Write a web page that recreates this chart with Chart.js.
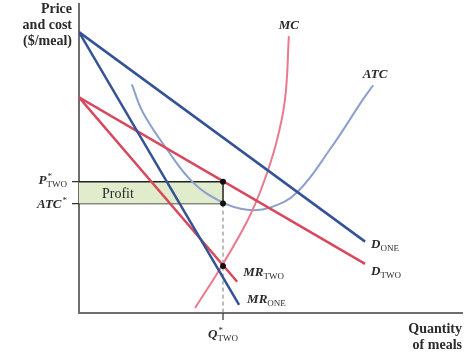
<!DOCTYPE html>
<html>
<head>
<meta charset="utf-8">
<script src="https://cdn.jsdelivr.net/npm/chart.js@4.4.0/dist/chart.umd.min.js"></script>
<style>
  body { margin: 0; background: #fff; }
  canvas { display: block; }
</style>
</head>
<body>
<canvas id="chart" width="474" height="358"></canvas>
<script>
// quantities (x) and prices (y), scale 0..100
var dOneQ = [0, 74.7],   dOneP = [90.9, 23.1];
var mrOneQ = [0, 41.8],  mrOneP = [90.9, 2.6];
var dTwoQ = [0, 74.7],   dTwoP = [69.8, 15.9];
var mrTwoQ = [0, 41.3],  mrTwoP = [69.8, 10.1];
var mcQ = [30.3, 37.3, 44.1, 48.0, 51.5, 53.8, 54.8];
var mcP = [1.6, 15.3, 30.2, 41.5, 55.0, 69.2, 89.6];
var atcQ = [13.8, 16.7, 23.0, 29.8, 37.6, 43.9, 49.9, 56.9, 65.5, 74.2, 76.8];
var atcP = [74.0, 64.9, 52.9, 42.2, 35.7, 33.4, 34.1, 39.0, 52.9, 69.2, 73.7];
var qStar = 37.6, pStar = 42.5, atcStar = 35.4, mrStar = 15.2;

var BLUE = 'rgb(52,82,150)';
var RED = 'rgb(216,72,92)';
var PINK = 'rgb(234,122,142)';
var LIGHTBLUE = 'rgb(140,160,205)';
var SERIF = '"Liberation Serif", "DejaVu Serif", serif';

function pts(xs, ys) {
    var out = [];
    for (var i = 0; i < xs.length; i++) out.push({x: xs[i], y: ys[i]});
    return out;
}

function line(data, color, width, extra) {
    var ds = {
        data: data,
        borderColor: color,
        borderWidth: width,
        pointRadius: 0,
        fill: false,
        tension: 0
    };
    for (var k in extra) ds[k] = extra[k];
    return ds;
}

// italic label with optional superscript and subscript
function drawLabel(ctx, x, y, main, sup, sub, align) {
    var mainFont = 'italic bold 13px ' + SERIF;
    var smallFont = '9px ' + SERIF;
    ctx.font = mainFont;
    var w1 = ctx.measureText(main).width;
    ctx.font = smallFont;
    var w2 = Math.max(sub ? ctx.measureText(sub).width : 0, sup ? ctx.measureText(sup).width + 1 : 0);
    var total = w1 + w2;
    var sx = align === 'right' ? x - total : align === 'center' ? x - total / 2 : x;
    ctx.textAlign = 'left';
    ctx.font = mainFont;
    ctx.fillText(main, sx, y);
    ctx.font = smallFont;
    if (sup) ctx.fillText(sup, sx + w1 + 1, y - 5);
    if (sub) ctx.fillText(sub, sx + w1, y + 3);
}

var annotations = {
    id: 'annotations',
    afterDraw: function(chart) {
        var ctx = chart.ctx;
        var xs = chart.scales.x, ys = chart.scales.y;
        var area = chart.chartArea;
        function px(v) { return xs.getPixelForValue(v); }
        function py(v) { return ys.getPixelForValue(v); }
        ctx.save();
        // small ticks at P*, ATC* and Q*
        ctx.strokeStyle = '#333';
        ctx.lineWidth = 1.2;
        ctx.beginPath();
        ctx.moveTo(area.left - 7, py(pStar)); ctx.lineTo(area.left, py(pStar));
        ctx.moveTo(area.left - 7, py(atcStar)); ctx.lineTo(area.left, py(atcStar));
        ctx.moveTo(px(qStar), area.bottom); ctx.lineTo(px(qStar), area.bottom + 7);
        ctx.stroke();

        ctx.fillStyle = '#2a2a2a';
        ctx.textBaseline = 'alphabetic';
        // axis titles
        ctx.font = 'bold 14px ' + SERIF;
        ctx.textAlign = 'right';
        ctx.fillText('Price', area.left - 7, 13);
        ctx.fillText('and cost', area.left - 7, 29);
        ctx.fillText('($/meal)', area.left - 7, 45);
        ctx.fillText('Quantity', area.right, 333);
        ctx.fillText('of meals', area.right, 349);

        // profit
        ctx.font = '14px ' + SERIF;
        ctx.textAlign = 'center';
        ctx.fillText('Profit', px(qStar) * 0.27 + area.left * 0.73, (py(pStar) + py(atcStar)) / 2 + 5);

        drawLabel(ctx, px(mcQ[mcQ.length - 1]), py(mcP[mcP.length - 1]) - 7, 'MC', null, null, 'center');
        drawLabel(ctx, px(atcQ[atcQ.length - 1]) + 2, py(atcP[atcP.length - 1]) - 7, 'ATC', null, null, 'center');
        drawLabel(ctx, px(dOneQ[1]) + 6, py(dOneP[1]) + 6, 'D', null, 'ONE', 'left');
        drawLabel(ctx, px(dTwoQ[1]) + 6, py(dTwoP[1]) + 11, 'D', null, 'TWO', 'left');
        drawLabel(ctx, px(mrTwoQ[1]) + 6, py(mrTwoP[1]) - 6, 'MR', null, 'TWO', 'left');
        drawLabel(ctx, px(mrOneQ[1]) + 8, py(mrOneP[1]) - 2, 'MR', null, 'ONE', 'left');
        drawLabel(ctx, area.left - 12, py(pStar) + 2, 'P', '*', 'TWO', 'right');
        drawLabel(ctx, area.left - 12, py(atcStar) + 4, 'ATC', '*', null, 'right');
        drawLabel(ctx, px(qStar), area.bottom + 25, 'Q', '*', 'TWO', 'center');
        ctx.restore();
    }
};

new Chart(document.getElementById('chart').getContext('2d'), {
    type: 'line',
    data: {
        datasets: [
            line(pts([qStar, qStar, qStar], [pStar, atcStar, mrStar]), '#111', 0,
                {showLine: false, pointRadius: 3, pointBackgroundColor: '#111', pointBorderWidth: 0}),
            line(pts(mrOneQ, mrOneP), BLUE, 2.5),
            line(pts(dOneQ, dOneP), BLUE, 2.5),
            line(pts(mrTwoQ, mrTwoP), RED, 2.5),
            line(pts(dTwoQ, dTwoP), RED, 2.5),
            line(pts(mcQ, mcP), PINK, 2, {tension: 0.4}),
            line(pts(atcQ, atcP), LIGHTBLUE, 2, {tension: 0.4}),
            line(pts([qStar, qStar], [atcStar, 0]), 'rgb(120,120,120)', 1, {borderDash: [4, 3]}),
            line(pts([qStar, qStar], [pStar, atcStar]), '#222', 1.5),
            line(pts([0, qStar], [pStar, pStar]), '#222', 1.5,
                {fill: '+1', backgroundColor: 'rgb(224,236,204)'}),
            line(pts([0, qStar], [atcStar, atcStar]), '#222', 1.5)
        ]
    },
    options: {
        responsive: false,
        animation: false,
        devicePixelRatio: 1,
        layout: { padding: { left: 79, right: 12, top: 3, bottom: 45 } },
        plugins: { legend: { display: false }, tooltip: { enabled: false } },
        scales: {
            x: {
                type: 'linear', min: 0, max: 100,
                grid: { display: false },
                ticks: { display: false },
                border: { display: true, color: 'rgb(110,110,110)', width: 2 },
                afterFit: function(s) { s.height = 0; }
            },
            y: {
                type: 'linear', min: 0, max: 100,
                grid: { display: false },
                ticks: { display: false },
                border: { display: true, color: 'rgb(110,110,110)', width: 2 },
                afterFit: function(s) { s.width = 0; }
            }
        }
    },
    plugins: [annotations]
});
</script>
</body>
</html>
